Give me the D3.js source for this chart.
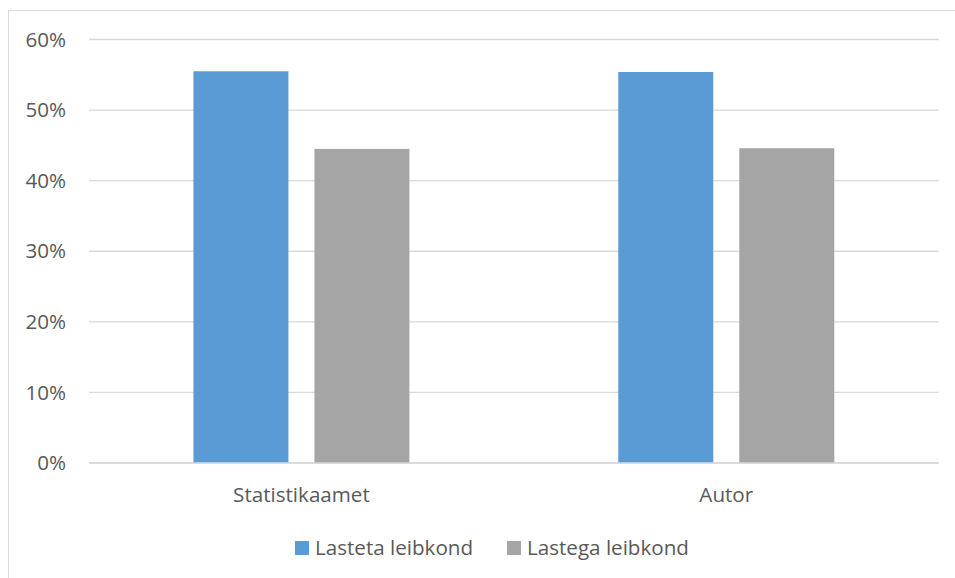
<!DOCTYPE html>
<html>
<head>
<meta charset="utf-8">
<script src="https://cdn.jsdelivr.net/npm/d3@7"></script>
<style>
  html, body { margin: 0; padding: 0; background: #fff; }
  svg { display: block; }
  text { font-family: "Open Sans", "Noto Sans", sans-serif; fill: #595959; }
</style>
</head>
<body>
<svg id="chart" width="955" height="578"></svg>
<script>
// Household shares by source
const categories = ["Statistikaamet", "Autor"];
const seriesNames = ["Lasteta leibkond", "Lastega leibkond"];
const lastetaValues = [0.555, 0.554];
const lastegaValues = [0.445, 0.446];
const yTicks = [0, 0.1, 0.2, 0.3, 0.4, 0.5, 0.6];
const colors = ["#5b9bd5", "#a5a5a5"];

const svg = d3.select("#chart");
const W = 955, H = 578;
const fontSize = 20.6;

// outer chart frame
svg.append("rect")
  .attr("x", 8.5).attr("y", 10.5)
  .attr("width", W + 10).attr("height", H + 10)
  .attr("fill", "none").attr("stroke", "#d9d9d9").attr("stroke-width", 1);

const plot = { left: 89, right: 938.7, top: 39.5, bottom: 463 };

const y = d3.scaleLinear().domain([0, 0.6]).range([plot.bottom, plot.top]);
const x0 = d3.scaleBand().domain(categories).range([plot.left, plot.right]).paddingInner(0).paddingOuter(0);
const groupWidth = 216;
const x1 = d3.scaleBand().domain(seriesNames).range([0, groupWidth]).paddingInner(26 / 121).paddingOuter(0);

// gridlines
svg.append("g").selectAll("line").data(yTicks).join("line")
  .attr("x1", plot.left).attr("x2", plot.right)
  .attr("y1", d => y(d)).attr("y2", d => y(d))
  .attr("stroke", "#d9d9d9").attr("stroke-width", 1.3);

// y tick labels
svg.append("g").selectAll("text").data(yTicks).join("text")
  .attr("x", 66).attr("y", d => y(d))
  .attr("dy", "0.35em")
  .attr("text-anchor", "end")
  .attr("font-size", fontSize)
  .text(d => d3.format(".0%")(d));

// bars
const rows = categories.map((c, i) => ({ cat: c, vals: [lastetaValues[i], lastegaValues[i]] }));
const groups = svg.append("g").selectAll("g").data(rows).join("g")
  .attr("transform", d => `translate(${x0(d.cat) + (x0.bandwidth() - groupWidth) / 2},0)`);
groups.selectAll("rect").data(d => d.vals.map((v, j) => ({ name: seriesNames[j], v, j }))).join("rect")
  .attr("x", d => x1(d.name))
  .attr("width", x1.bandwidth())
  .attr("y", d => y(d.v))
  .attr("height", d => y(0) - y(d.v))
  .attr("fill", d => colors[d.j]);

// redraw the baseline over bars
svg.append("line")
  .attr("x1", plot.left).attr("x2", plot.right)
  .attr("y1", y(0)).attr("y2", y(0))
  .attr("stroke", "#d9d9d9").attr("stroke-width", 1.3);

// category labels
svg.append("g").selectAll("text").data(categories).join("text")
  .attr("x", d => x0(d) + x0.bandwidth() / 2)
  .attr("y", 502)
  .attr("text-anchor", "middle")
  .attr("font-size", fontSize)
  .text(d => d);

// legend
const legendItems = [
  { name: seriesNames[0], color: colors[0], x: 295 },
  { name: seriesNames[1], color: colors[1], x: 507 }
];
const lg = svg.append("g").selectAll("g").data(legendItems).join("g")
  .attr("transform", d => `translate(${d.x},0)`);
lg.append("rect").attr("x", 0).attr("y", 541).attr("width", 14).attr("height", 14)
  .attr("fill", d => d.color);
lg.append("text").attr("x", 20).attr("y", 555)
  .attr("font-size", fontSize)
  .text(d => d.name);
</script>
</body>
</html>
